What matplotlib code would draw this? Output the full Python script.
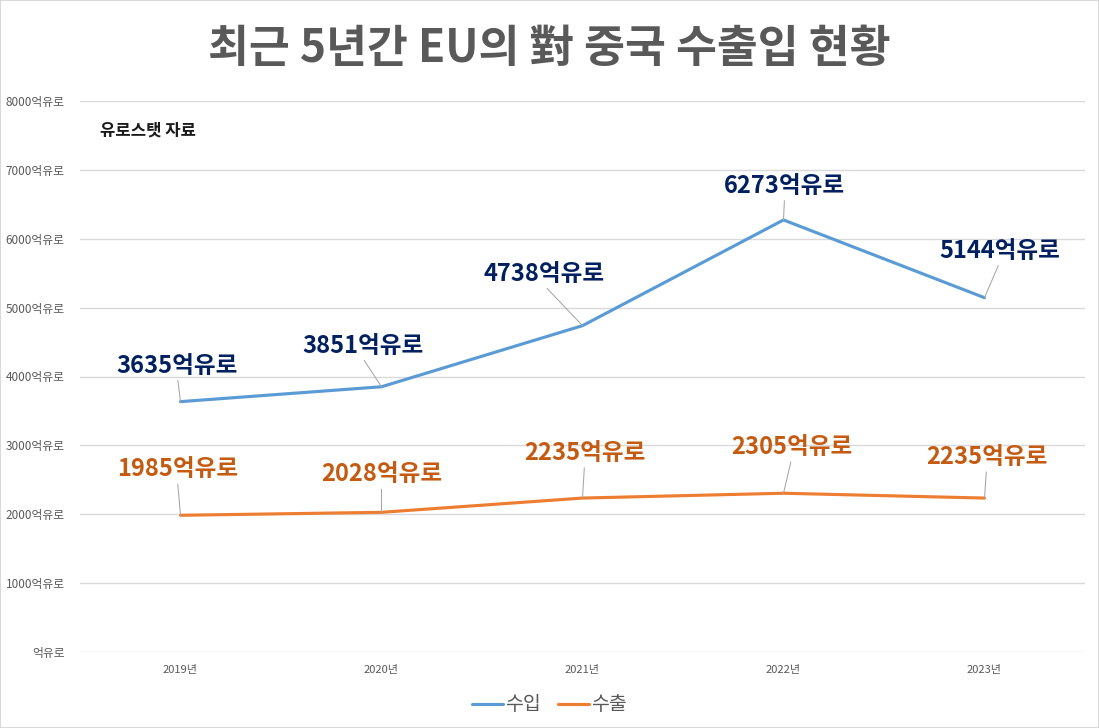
import matplotlib
matplotlib.use("Agg")
import matplotlib.pyplot as plt
from matplotlib.patches import Rectangle

plt.rcParams['font.family'] = ['Noto Sans CJK KR', 'DejaVu Sans']

years = ['2019년', '2020년', '2021년', '2022년', '2023년']
imports = [3635, 3851, 4738, 6273, 5144]   # 수입
exports = [1985, 2028, 2235, 2305, 2235]   # 수출
yticks = [0, 1000, 2000, 3000, 4000, 5000, 6000, 7000, 8000]
title = '최근 5년간 EU의 對 중국 수출입 현황'
source = '유로스탯 자료'
unit = '억유로'

# label offsets in pixels (style only)
imp_off = [(-3, 36), (-19, 41), (-38, 52), (1, 34), (15, 47)]
exp_off = [(-3, 46), (0, 38), (2, 45), (8, 46), (2, 41)]

fig = plt.figure(figsize=(10.99, 7.28), dpi=100)
ax = fig.add_axes([80/1099, 1-652/728, (1085-80)/1099, (652-101)/728])

x = list(range(len(years)))
c_imp, c_exp = '#5B9BD5', '#ED7D31'
ax.plot(x, imports, color=c_imp, lw=2.25, label='수입', solid_capstyle='round', zorder=3)
ax.plot(x, exports, color=c_exp, lw=2.25, label='수출', solid_capstyle='round', zorder=3)

ax.set_xlim(-0.5, len(years) - 0.5)
ax.set_ylim(0, 8000)
ax.set_yticks(yticks)
ax.set_yticklabels([(f'{v}' if v else '') + unit for v in yticks])
ax.set_xticks(x)
ax.set_xticklabels(years)
ax.tick_params(axis='y', length=0, pad=11, labelsize=8.5, labelcolor='#595959')
ax.tick_params(axis='x', length=0, pad=9, labelsize=8, labelcolor='#595959')
for s in ax.spines.values():
    s.set_visible(False)
ax.grid(axis='y', color='#D9D9D9', lw=1)
ax.set_axisbelow(True)

def label(vals, offs, color):
    for xi, v, (dx, dy) in zip(x, vals, offs):
        ax.annotate(f'{v}{unit}', xy=(xi, v), xytext=(dx, dy), textcoords='offset pixels',
                    ha='center', va='center', fontsize=17, fontweight='bold', color=color,
                    arrowprops=dict(arrowstyle='-', color='#A6A6A6', lw=0.75,
                                    shrinkA=0, shrinkB=0, relpos=(0.5, 0.0)),
                    zorder=4)

label(imports, imp_off, '#002060')
label(exports, exp_off, '#C55A11')

fig.text(0.5, 1 - 49/728, title, ha='center', va='center', fontsize=32,
         fontweight='bold', color='#595959')
ax.text(100/1099, 1 - 131/728, source, transform=fig.transFigure, ha='left', va='center',
        fontsize=12, fontweight='bold', color='#1A1A1A')

fig.legend(loc='center', bbox_to_anchor=(0.5, 23/728), ncol=2, frameon=False,
           fontsize=14, handlelength=1.6, columnspacing=0.9, handletextpad=0.1,
           labelcolor='#595959')

fig.patches.append(Rectangle((0, 0), 1, 1, transform=fig.transFigure, fill=False,
                             edgecolor='#D9D9D9', lw=1.5))

fig.savefig('out.png', dpi=100)
